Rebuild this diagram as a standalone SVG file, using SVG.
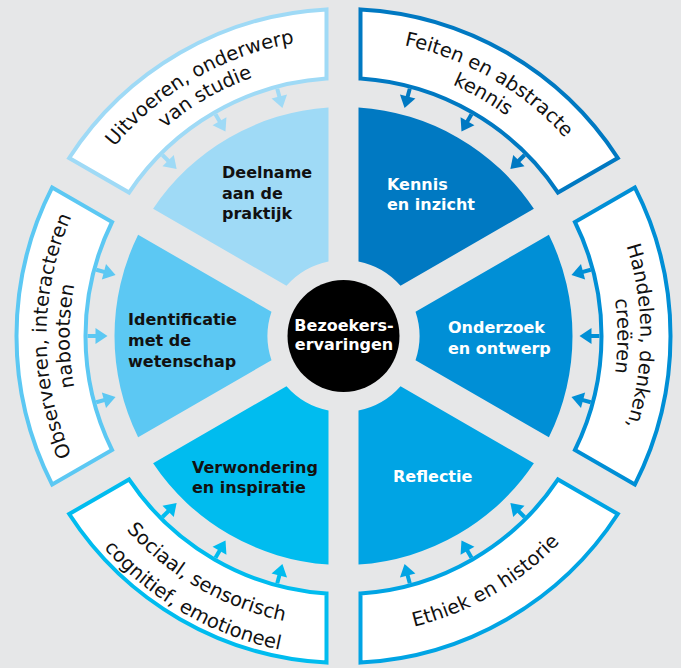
<svg xmlns="http://www.w3.org/2000/svg" xmlns:xlink="http://www.w3.org/1999/xlink" width="681" height="668" viewBox="0 0 681 668">
<style>
.ring{fill:#fff;stroke-width:4}
.rt{font-family:"DejaVu Sans",sans-serif;font-size:19.5px;fill:#111}
.wl{font-family:"DejaVu Sans",sans-serif;font-size:16px;font-weight:bold}
.dk{fill:#111}.wh{fill:#fff}
.c1{fill:#9FDAF6;stroke:#9FDAF6;color:#9FDAF6}
.c2{fill:#0079C2;stroke:#0079C2;color:#0079C2}
.c3{fill:#008FD6;stroke:#008FD6;color:#008FD6}
.c4{fill:#00A4E4;stroke:#00A4E4;color:#00A4E4}
.c5{fill:#00BCEF;stroke:#00BCEF;color:#00BCEF}
.c6{fill:#5CC8F3;stroke:#5CC8F3;color:#5CC8F3}
.ring.c1,.ring.c2,.ring.c3,.ring.c4,.ring.c5,.ring.c6{fill:#fff}
</style>
<defs>
<path id="wedge" d="M242.24,130.61A229,229 0 0 1 444.76,130.61L367.76,263.98A76,76 0 0 0 319.24,263.98Z" stroke="none"/>
<path id="seg" d="M194.94,44.69A327,327 0 0 1 492.06,44.69L457.5,104.55A258,258 0 0 0 229.5,104.55Z"/>
<g id="arrow"><path d="M343.5,80V91" stroke="currentColor" stroke-width="4" fill="none"/><path d="M335.5,88H351.5L343.5,100Z" fill="currentColor" stroke="none"/></g>
<path id="tOut297" d="M86.29,187.5A297,297 0 0 1 600.71,187.5"/>
<path id="tOut274" d="M106.21,199A274,274 0 0 1 580.79,199"/>
<path id="tIn299" d="M84.56,485.5A299,299 0 0 0 602.44,485.5"/>
<path id="tIn291" d="M91.49,481.5A291,291 0 0 0 595.51,481.5"/>
<path id="tIn320" d="M66.37,496A320,320 0 0 0 620.63,496"/>
</defs>
<rect width="681" height="668" fill="#E6E7E8"/>

<g id="deelname">
<use href="#wedge" class="c1" transform="rotate(-30 343.5 336)"/>
<text class="wl dk" x="222" y="178">Deelname</text>
<text class="wl dk" x="222" y="198.5">aan de</text>
<text class="wl dk" x="222" y="219">praktijk</text>
</g>
<g id="kennis">
<use href="#wedge" class="c2" transform="rotate(30 343.5 336)"/>
<text class="wl wh" x="387" y="190">Kennis</text>
<text class="wl wh" x="387" y="210">en inzicht</text>
</g>
<g id="onderzoek">
<use href="#wedge" class="c3" transform="rotate(90 343.5 336)"/>
<text class="wl wh" x="448" y="333">Onderzoek</text>
<text class="wl wh" x="448" y="354">en ontwerp</text>
</g>
<g id="reflectie">
<use href="#wedge" class="c4" transform="rotate(150 343.5 336)"/>
<text class="wl wh" x="393" y="482">Reflectie</text>
</g>
<g id="verwondering">
<use href="#wedge" class="c5" transform="rotate(210 343.5 336)"/>
<text class="wl dk" x="192" y="473">Verwondering</text>
<text class="wl dk" x="192" y="493">en inspiratie</text>
</g>
<g id="identificatie">
<use href="#wedge" class="c6" transform="rotate(270 343.5 336)"/>
<text class="wl dk" x="128" y="325">Identificatie</text>
<text class="wl dk" x="128" y="346">met de</text>
<text class="wl dk" x="128" y="367">wetenschap</text>
</g>

<g id="bezoekers">
<circle cx="343.5" cy="336" r="56" fill="#000"/>
<text class="wl wh" x="344" y="331" text-anchor="middle" font-size="15">Bezoekers-</text>
<text class="wl wh" x="344" y="350" text-anchor="middle" font-size="15">ervaringen</text>
</g>

<g id="uitvoeren">
<use href="#seg" class="ring c1" transform="rotate(-30 343.5 336)"/>
<g transform="rotate(-30 343.5 336)">
<text class="rt"><textPath href="#tOut297" startOffset="50%" text-anchor="middle">Uitvoeren, onderwerp</textPath></text>
<text class="rt"><textPath href="#tOut274" startOffset="50%" text-anchor="middle">van studie</textPath></text>
</g>
</g>
<g id="feiten">
<use href="#seg" class="ring c2" transform="rotate(30 343.5 336)"/>
<g transform="rotate(30 343.5 336)">
<text class="rt"><textPath href="#tOut297" startOffset="50%" text-anchor="middle">Feiten en abstracte</textPath></text>
<text class="rt"><textPath href="#tOut274" startOffset="50%" text-anchor="middle">kennis</textPath></text>
</g>
</g>
<g id="handelen">
<use href="#seg" class="ring c3" transform="rotate(90 343.5 336)"/>
<g transform="rotate(90 343.5 336)">
<text class="rt"><textPath href="#tOut297" startOffset="50%" text-anchor="middle">Handelen, denken,</textPath></text>
<text class="rt"><textPath href="#tOut274" startOffset="50%" text-anchor="middle">creëren</textPath></text>
</g>
</g>
<g id="ethiek">
<use href="#seg" class="ring c4" transform="rotate(150 343.5 336)"/>
<g transform="rotate(-30 343.5 336)">
<text class="rt"><textPath href="#tIn299" startOffset="50%" text-anchor="middle">Ethiek en historie</textPath></text>
</g>
</g>
<g id="sociaal">
<use href="#seg" class="ring c5" transform="rotate(210 343.5 336)"/>
<g transform="rotate(30 343.5 336)">
<text class="rt"><textPath href="#tIn291" startOffset="50%" text-anchor="middle">Sociaal, sensorisch</textPath></text>
<text class="rt"><textPath href="#tIn320" startOffset="50%" text-anchor="middle">cognitief, emotioneel</textPath></text>
</g>
</g>
<g id="observeren">
<use href="#seg" class="ring c6" transform="rotate(270 343.5 336)"/>
<g transform="rotate(270 343.5 336)">
<text class="rt"><textPath href="#tOut297" startOffset="50%" text-anchor="middle">Observeren, interacteren</textPath></text>
<text class="rt"><textPath href="#tOut274" startOffset="50%" text-anchor="middle">nabootsen</textPath></text>
</g>
</g>

<g id="connectors">
<use href="#arrow" class="c1" transform="rotate(-45 343.5 336)"/>
<use href="#arrow" class="c1" transform="rotate(-30 343.5 336)"/>
<use href="#arrow" class="c1" transform="rotate(-15 343.5 336)"/>
<use href="#arrow" class="c2" transform="rotate(15 343.5 336)"/>
<use href="#arrow" class="c2" transform="rotate(30 343.5 336)"/>
<use href="#arrow" class="c2" transform="rotate(45 343.5 336)"/>
<use href="#arrow" class="c3" transform="rotate(75 343.5 336)"/>
<use href="#arrow" class="c3" transform="rotate(90 343.5 336)"/>
<use href="#arrow" class="c3" transform="rotate(105 343.5 336)"/>
<use href="#arrow" class="c4" transform="rotate(135 343.5 336)"/>
<use href="#arrow" class="c4" transform="rotate(150 343.5 336)"/>
<use href="#arrow" class="c4" transform="rotate(165 343.5 336)"/>
<use href="#arrow" class="c5" transform="rotate(195 343.5 336)"/>
<use href="#arrow" class="c5" transform="rotate(210 343.5 336)"/>
<use href="#arrow" class="c5" transform="rotate(225 343.5 336)"/>
<use href="#arrow" class="c6" transform="rotate(255 343.5 336)"/>
<use href="#arrow" class="c6" transform="rotate(270 343.5 336)"/>
<use href="#arrow" class="c6" transform="rotate(285 343.5 336)"/>
</g>
</svg>
